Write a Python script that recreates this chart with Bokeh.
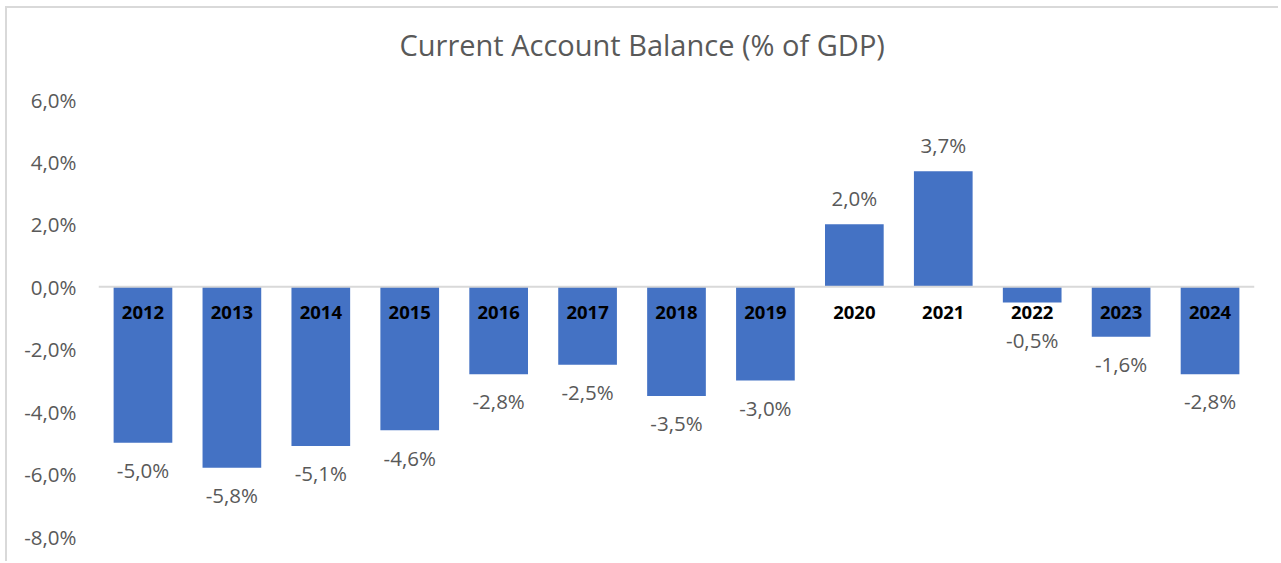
from bokeh.plotting import figure
from bokeh.models import (ColumnDataSource, Span, FixedTicker, CustomJSTickFormatter,
                          InlineStyleSheet, Title)
from bokeh.core.properties import value
from bokeh.embed import file_html
from bokeh.resources import INLINE

years = ["2012", "2013", "2014", "2015", "2016", "2017", "2018",
         "2019", "2020", "2021", "2022", "2023", "2024"]
balance = [-5.0, -5.8, -5.1, -4.6, -2.8, -2.5, -3.5, -3.0, 2.0, 3.7, -0.5, -1.6, -2.8]
y_ticks = [-8, -6, -4, -2, 0, 2, 4, 6]
title_text = "Current Account Balance (% of GDP)"

FONT = "Open Sans"
GREY = "#595959"

def fmt(v):
    return f"{v:.1f}".replace(".", ",") + "%"

label_pos = []
for v in balance:
    if v >= 0:
        label_pos.append(v + 0.84)
    else:
        label_pos.append(min(v - 0.87, -1.7))

src = ColumnDataSource(dict(
    year=years, val=balance, lbl=[fmt(v) for v in balance], lbl_y=label_pos,
    cat_y=[-0.82] * len(years),
))

p = figure(x_range=years, y_range=(-8, 6), width=1273, height=555,
           output_backend="svg", toolbar_location=None,
           min_border_left=91, min_border_right=26, min_border_top=91, min_border_bottom=27)
p.stylesheets = [InlineStyleSheet(css=":host { margin-left: 5px; margin-top: 6px; border-top: 2px solid #d9d9d9; border-left: 2px solid #d9d9d9; }")]
p.outline_line_color = None
p.background_fill_color = "white"
p.border_fill_color = "white"
p.x_range.range_padding = 0
p.xgrid.grid_line_color = None
p.ygrid.grid_line_color = None
p.xaxis.visible = False

# spacer between the title and the plot frame
p.add_layout(Title(text=" ", text_font_size="1px", standoff=28), "above")

p.title.text = title_text
p.title.align = "left"
p.title.offset = 301
p.title.text_font = FONT
p.title.text_font_size = "29px"
p.title.text_font_style = "normal"
p.title.text_color = GREY
p.title.standoff = 10

p.yaxis.ticker = FixedTicker(ticks=y_ticks)
p.yaxis.formatter = CustomJSTickFormatter(code="return tick.toFixed(1).replace('.', ',') + '%';")
p.yaxis.axis_line_color = None
p.yaxis.major_tick_line_color = None
p.yaxis.minor_tick_line_color = None
p.yaxis.major_label_text_font = FONT
p.yaxis.major_label_text_font_size = "20.5px"
p.yaxis.major_label_text_color = GREY
p.yaxis.major_label_standoff = 16

p.vbar(x="year", top="val", bottom=0, width=0.66, source=src,
       fill_color="#4472C4", line_color=None)
p.add_layout(Span(location=0, dimension="width", line_color="#d9d9d9", line_width=2))

p.text(x="year", y="lbl_y", text="lbl", source=src, text_font=value(FONT),
       text_font_size="20.5px", text_color=GREY, text_align="center", text_baseline="middle")
p.text(x="year", y="cat_y", text="year", source=src, text_font=value(FONT),
       text_font_size="18.5px", text_font_style="bold", text_color="black",
       text_align="center", text_baseline="middle")

open("out.html", "w").write(file_html(p, INLINE))
